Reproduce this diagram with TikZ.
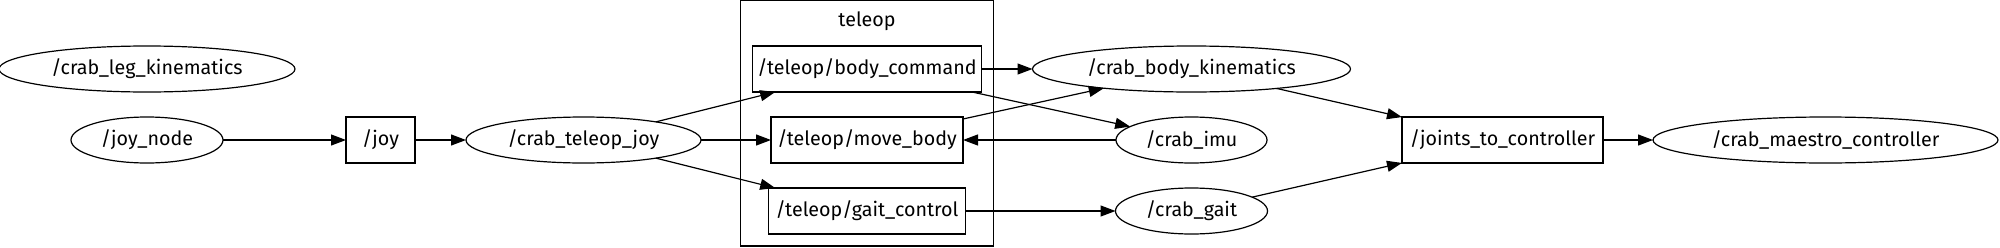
\documentclass[tikz,border=0pt]{standalone}
\usepackage{fontspec}
\setmainfont{Fira Sans}
\usepackage{tikz}
\usetikzlibrary{positioning}
\usetikzlibrary{calc,arrows.meta}
\usetikzlibrary{shapes.geometric,fit}

\begin{document}
\begin{tikzpicture}[
    node distance=0.625cm, % rows sit close together
    font=\fontsize{14}{16}\selectfont,
    >={Triangle[length=0.375cm, width=0.275cm]},
    line width=0.03cm
  ]

  % Styles for ROS nodes, topics and the namespace box
  \tikzset{
    rosnode/.style={draw, ellipse, inner sep=0pt, outer sep=0pt, minimum height=1.15cm},
    topic/.style={draw, rectangle, inner sep=0pt, outer sep=0pt, minimum height=1.15cm},
    cluster/.style={draw, rectangle, inner sep=0.3cm}
  }

  \useasboundingbox (0,0) rectangle (50,-6.175);

  % Middle row, left to right
  \node (joynode)   [rosnode, minimum width=3.8cm] at (3.675,-3.5) {/joy\_node};
  \node (joy)       [topic, minimum width=1.725cm, right=3.075cm of joynode] {/joy};
  \node (teleopjoy) [rosnode, minimum width=5.875cm, right=1.275cm of joy] {/crab\_teleop\_joy};
  \node (movebody)  [topic, minimum width=4.8cm, right=1.75cm of teleopjoy] {/teleop/move\_body};
  \node (imu)       [rosnode, minimum width=3.775cm, right=3.825cm of movebody] {/crab\_imu};
  \node (joints)    [topic, minimum width=5.025cm, right=3.375cm of imu] {/joints\_to\_controller};
  \node (maestro)   [rosnode, minimum width=8.625cm, right=1.25cm of joints] {/crab\_maestro\_controller};

  % Upper and lower rows
  \node (legkin)    [rosnode, minimum width=7.4cm, above=of joynode] {/crab\_leg\_kinematics};
  \node (bodycmd)   [topic, minimum width=5.725cm, above=of movebody] {/teleop/body\_command};
  \node (gaitctl)   [topic, minimum width=4.925cm, below=of movebody] {/teleop/gait\_control};
  \node (bodykin)   [rosnode, minimum width=7.95cm, above=of imu] {/crab\_body\_kinematics};
  \node (gait)      [rosnode, minimum width=3.8cm, below=of imu] {/crab\_gait};

  % Namespace box round the teleop topics
  \coordinate[above=0.85cm of bodycmd.north] (clustertop);
  \node (teleop) [cluster, fit=(bodycmd)(gaitctl)(clustertop)] {};
  \node (teleoplabel) at ([yshift=-0.55cm]teleop.north) {teleop};

  % Connections
  \draw[->] (joynode) -- (joy);
  \draw[->] (joy) -- (teleopjoy);
  \draw[->] (teleopjoy) -- (bodycmd);
  \draw[->] (teleopjoy) -- (movebody);
  \draw[->] (teleopjoy) -- (gaitctl);
  \draw[->] (bodycmd) -- (bodykin);
  \draw[->] (bodycmd) -- (imu);
  \draw[->] (movebody) -- (bodykin);
  \draw[->] (imu) -- (movebody);
  \draw[->] (gaitctl) -- (gait);
  \draw[->] (bodykin) -- (joints);
  \draw[->] (gait) -- (joints);
  \draw[->] (joints) -- (maestro);

\end{tikzpicture}
\end{document}
